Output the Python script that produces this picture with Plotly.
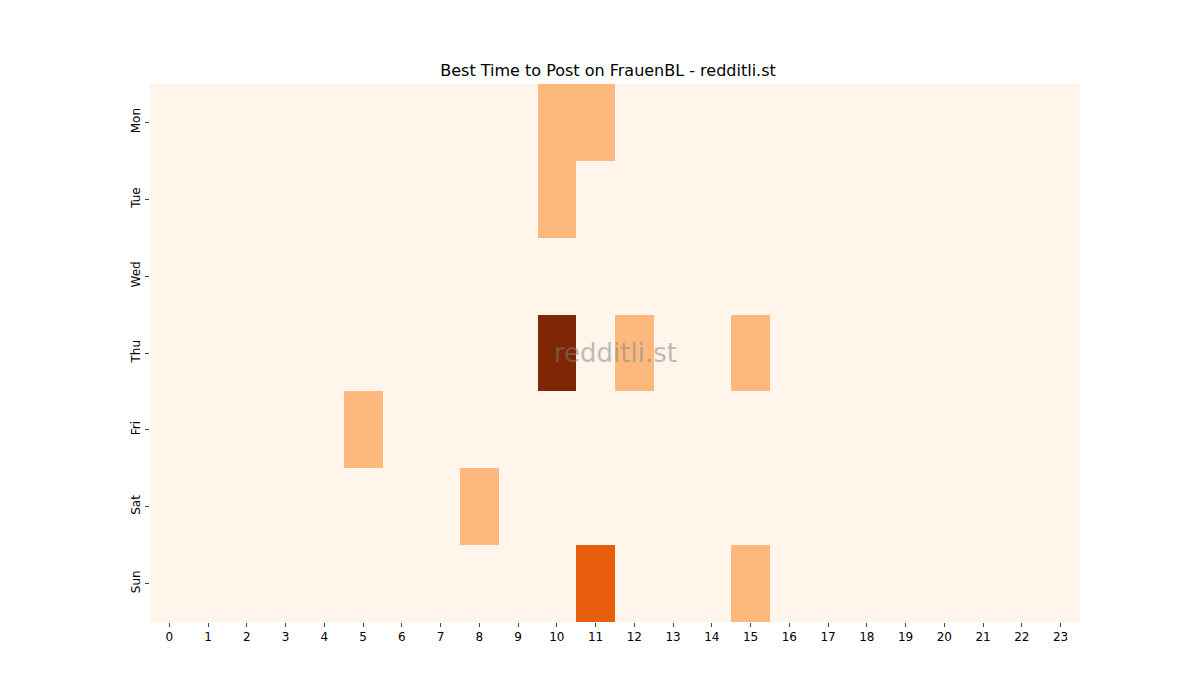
import plotly.graph_objects as go

days = ['Mon', 'Tue', 'Wed', 'Thu', 'Fri', 'Sat', 'Sun']
hours = list(range(24))

# post counts per (day, hour); everything else is zero
counts = {
    ('Mon', 10): 1, ('Mon', 11): 1,
    ('Tue', 10): 1,
    ('Thu', 10): 3, ('Thu', 12): 1, ('Thu', 15): 1,
    ('Fri', 5): 1,
    ('Sat', 8): 1,
    ('Sun', 11): 2, ('Sun', 15): 1,
}

z = [[counts.get((d, h), 0) for h in hours] for d in days]

oranges = [
    [0.0, '#fff5eb'], [0.125, '#fee6ce'], [0.25, '#fdd0a2'], [0.375, '#fdae6b'],
    [0.5, '#fd8d3c'], [0.625, '#f16913'], [0.75, '#d94801'], [0.875, '#a63603'],
    [1.0, '#7f2704'],
]

fig = go.Figure(go.Heatmap(
    z=z, x=hours, y=days, colorscale=oranges, showscale=False,
    zmin=0, zmax=3, xgap=0, ygap=0,
))

fig.add_annotation(text='redditli.st', x=0.5, y=0.5, xref='paper', yref='paper',
                   showarrow=False, font=dict(size=26, color='rgba(128,128,128,0.5)'))

fig.update_layout(
    width=1200, height=700,
    title=dict(text='Best Time to Post on FrauenBL - redditli.st', x=0.5, y=0.919,
               xanchor='center', font=dict(size=16, color='black')),
    font=dict(family='DejaVu Sans', size=12, color='black'),
    plot_bgcolor='white', paper_bgcolor='white',
    margin=dict(l=142, r=128, t=76, b=86),
    xaxis=dict(tickmode='array', tickvals=hours, ticks='outside', ticklen=4,
               showgrid=False, zeroline=False),
    yaxis=dict(autorange='reversed', tickangle=-90, ticks='outside', ticklen=4,
               showgrid=False, zeroline=False),
)

fig.write_html('out.html')
